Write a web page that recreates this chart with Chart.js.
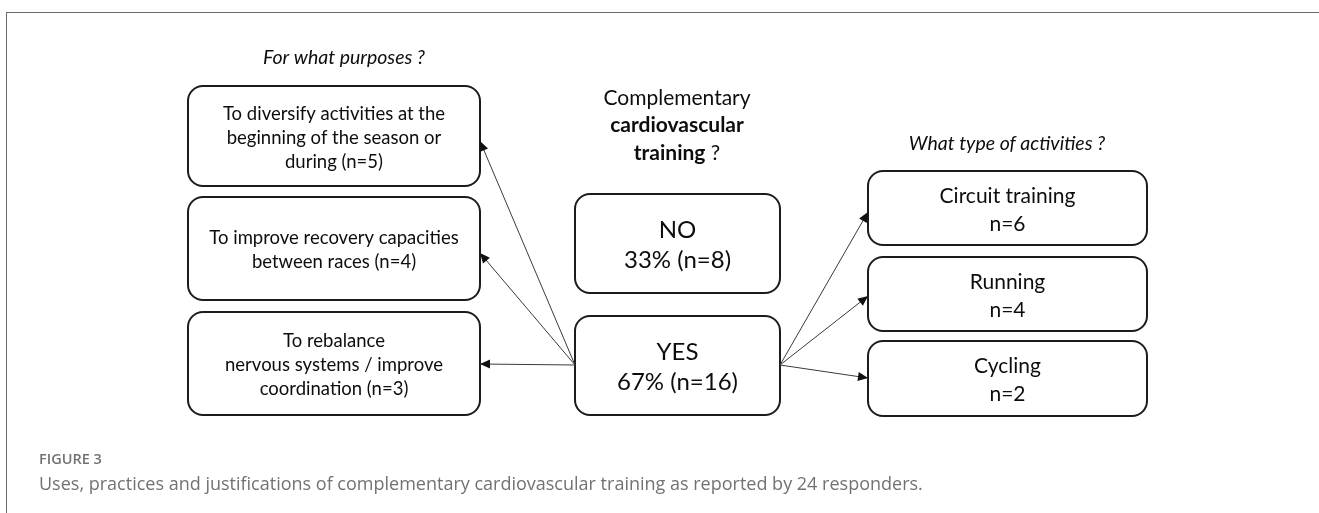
<!DOCTYPE html>
<html>
<head>
<meta charset="utf-8">
<script src="https://cdn.jsdelivr.net/npm/chart.js@4.4.1/dist/chart.umd.min.js"></script>
<style>
  html, body { margin: 0; padding: 0; background: #fff; overflow: hidden; }
  #wrap { position: relative; width: 1319px; height: 513px; }
  #frame { position: absolute; left: 6px; top: 12px; right: 0; bottom: 0;
           border-top: 1.5px solid #6a6a6a; border-left: 1.5px solid #6a6a6a; }
  #c { position: absolute; left: 0; top: 0; }
  .fig-label { position: absolute; left: 39px; top: 449px; font-family: 'Open Sans', sans-serif;
               font-size: 14.5px; font-weight: 600; color: #727272; }
  .fig-caption { position: absolute; left: 39px; top: 471px; font-family: 'Open Sans', sans-serif;
                 font-size: 18px; color: #727272; white-space: nowrap; }
</style>
</head>
<body>
<div id="wrap">
  <div id="frame"></div>
  <canvas id="c" width="1319" height="513"></canvas>
  <div class="fig-label">FIGURE 3</div>
  <div class="fig-caption">Uses, practices and justifications of complementary cardiovascular training as reported by 24 responders.</div>
</div>
<script>
// --- data ---
const purposeLines = [
    ['To diversify activities at the', 'beginning of the season or', 'during'],
    ['To improve recovery capacities', 'between races'],
    ['To rebalance', 'nervous systems / improve', 'coordination']
];
const purposeCounts = [5, 4, 3];
const activityNames = ['Circuit training', 'Running', 'Cycling'];
const activityCounts = [6, 4, 2];
const answerLabels = ['NO', 'YES'];
const answerCounts = [8, 16];
const respondents = 24;

// --- layout (axis units = page pixels) ---
const purposeBoxes = [
    { x0: 188, x1: 480, y0: 86, y1: 186, ay: 141 },
    { x0: 188, x1: 480, y0: 197, y1: 300, ay: 253 },
    { x0: 188, x1: 480, y0: 312, y1: 415, ay: 364 }
];
const answerBoxes = [
    { x0: 575, x1: 780, y0: 194, y1: 293 },
    { x0: 575, x1: 780, y0: 316, y1: 415, ay: 365 }
];
const activityBoxes = [
    { x0: 868, x1: 1147, y0: 171, y1: 245, ay: 212 },
    { x0: 868, x1: 1147, y0: 257, y1: 331, ay: 296 },
    { x0: 868, x1: 1147, y0: 341, y1: 416, ay: 378 }
];

const FONT = 'Lato, "Open Sans", sans-serif';
const yesBox = answerBoxes[1];

// arrows from the YES box to each side
const arrowSets = [];
purposeBoxes.forEach(b => arrowSets.push([{ x: yesBox.x0, y: yesBox.ay }, { x: b.x1, y: b.ay }]));
activityBoxes.forEach(b => arrowSets.push([{ x: yesBox.x1, y: yesBox.ay }, { x: b.x0, y: b.ay }]));

function roundRect(ctx, x, y, w, h, r) {
    ctx.beginPath();
    ctx.moveTo(x + r, y);
    ctx.arcTo(x + w, y, x + w, y + h, r);
    ctx.arcTo(x + w, y + h, x, y + h, r);
    ctx.arcTo(x, y + h, x, y, r);
    ctx.arcTo(x, y, x + w, y, r);
    ctx.closePath();
}

// draws text runs [{t, bold}] centred on cx
function drawRuns(ctx, runs, cx, cy, size, italic) {
    const fontFor = r => (italic ? 'italic ' : '') + (r.bold ? '700 ' : '400 ') + size + 'px ' + FONT;
    let total = 0;
    runs.forEach(r => { ctx.font = fontFor(r); total += ctx.measureText(r.t).width; });
    let x = cx - total / 2;
    ctx.textAlign = 'left';
    runs.forEach(r => {
        ctx.font = fontFor(r);
        ctx.fillText(r.t, x, cy);
        x += ctx.measureText(r.t).width;
    });
}

const diagramPlugin = {
    id: 'diagram',
    beforeDatasetsDraw(chart) {
        const { ctx, scales: { x, y } } = chart;
        const px = v => x.getPixelForValue(v);
        const py = v => y.getPixelForValue(v);

        ctx.save();
        ctx.fillStyle = '#0d0d0d';
        ctx.textBaseline = 'middle';

        const box = (b, lines, size, lh) => {
            const X0 = px(b.x0), X1 = px(b.x1), Y0 = py(b.y0), Y1 = py(b.y1);
            ctx.lineWidth = 2;
            ctx.strokeStyle = '#1c1c1c';
            roundRect(ctx, X0, Y0, X1 - X0, Y1 - Y0, 15);
            ctx.stroke();
            const cx = (X0 + X1) / 2, cy = (Y0 + Y1) / 2 + 2;
            lines.forEach((ln, i) => {
                drawRuns(ctx, [{ t: ln }], cx, cy + (i - (lines.length - 1) / 2) * lh, size);
            });
        };

        purposeBoxes.forEach((b, i) => {
            const lines = purposeLines[i].slice();
            lines[lines.length - 1] += ' (n=' + purposeCounts[i] + ')';
            box(b, lines, 18.5, 24);
        });
        answerBoxes.forEach((b, i) => {
            const pct = Math.round(answerCounts[i] / respondents * 100);
            box(b, [answerLabels[i], pct + '% (n=' + answerCounts[i] + ')'], 24, 30);
        });
        activityBoxes.forEach((b, i) => {
            box(b, [activityNames[i], 'n=' + activityCounts[i]], 21, 28);
        });

        // headings
        drawRuns(ctx, [{ t: 'For what purposes ?' }], px(344), py(58), 19.5, true);
        drawRuns(ctx, [{ t: 'What type of activities ?' }], px(1007), py(144), 19.5, true);
        drawRuns(ctx, [{ t: 'Complementary' }], px(677), py(98), 21);
        drawRuns(ctx, [{ t: 'cardiovascular', bold: true }], px(677), py(125), 21);
        drawRuns(ctx, [{ t: 'training', bold: true }, { t: ' ?' }], px(677), py(153), 21);
        ctx.restore();
    },
    afterDatasetsDraw(chart) {
        const { ctx } = chart;
        ctx.save();
        ctx.fillStyle = '#111';
        chart.data.datasets.forEach((ds, i) => {
            const pts = chart.getDatasetMeta(i).data;
            const a = pts[0], b = pts[pts.length - 1];
            const ang = Math.atan2(b.y - a.y, b.x - a.x);
            const len = 10, half = 4.5;
            ctx.beginPath();
            ctx.moveTo(b.x, b.y);
            ctx.lineTo(b.x - len * Math.cos(ang) + half * Math.sin(ang), b.y - len * Math.sin(ang) - half * Math.cos(ang));
            ctx.lineTo(b.x - len * Math.cos(ang) - half * Math.sin(ang), b.y - len * Math.sin(ang) + half * Math.cos(ang));
            ctx.closePath();
            ctx.fill();
        });
        ctx.restore();
    }
};

new Chart(document.getElementById('c'), {
    type: 'scatter',
    data: {
        datasets: arrowSets.map(pts => ({
            data: pts,
            showLine: true,
            borderColor: '#3a3a3a',
            borderWidth: 1,
            pointRadius: 0
        }))
    },
    options: {
        responsive: false,
        devicePixelRatio: 1,
        animation: false,
        events: [],
        layout: { padding: 0 },
        plugins: { legend: { display: false }, tooltip: { enabled: false } },
        scales: {
            x: { type: 'linear', min: 0, max: 1319, display: false },
            y: { type: 'linear', min: 0, max: 513, reverse: true, display: false }
        }
    },
    plugins: [diagramPlugin]
});
</script>
</body>
</html>
